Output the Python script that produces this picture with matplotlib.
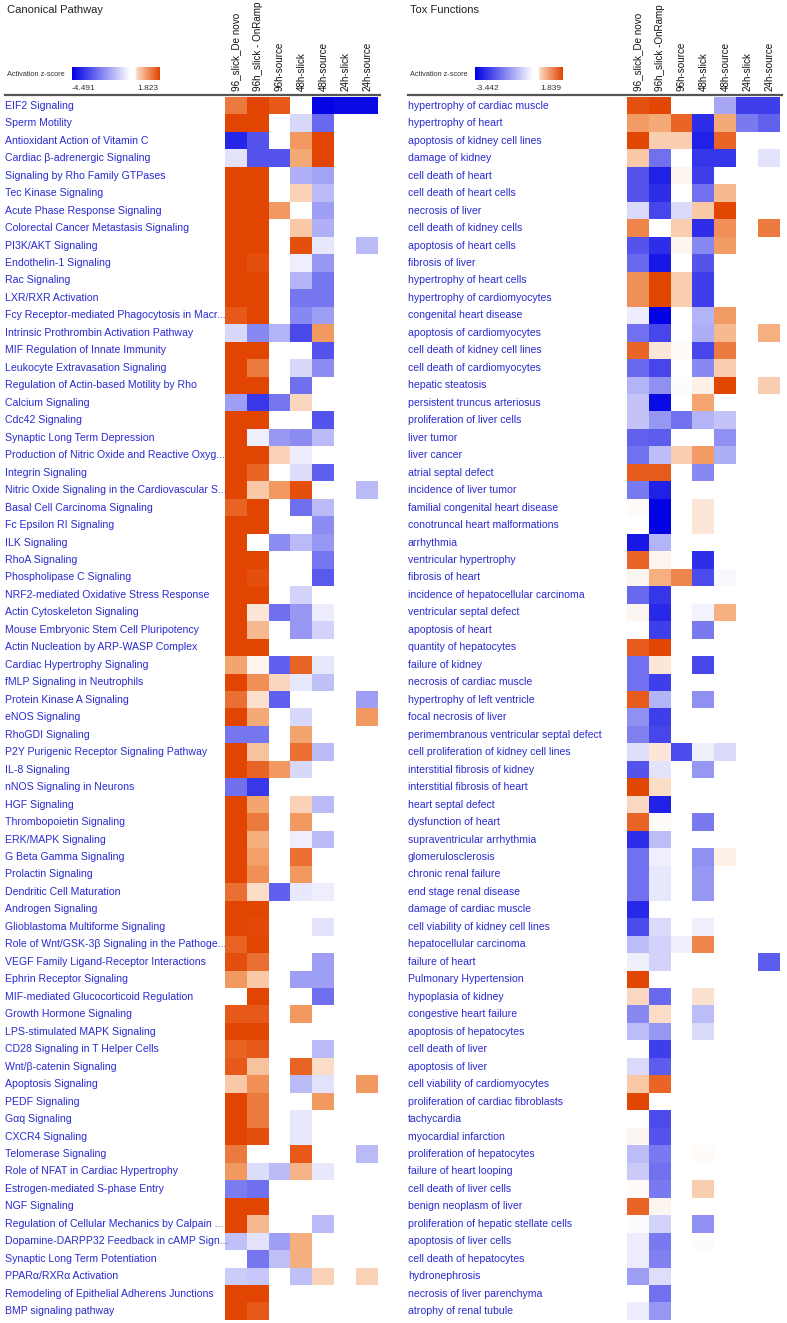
import numpy as np
import matplotlib
matplotlib.use("Agg")
import matplotlib.pyplot as plt
from matplotlib.colors import LinearSegmentedColormap, TwoSlopeNorm
from matplotlib.transforms import blended_transform_factory
from matplotlib.lines import Line2D

plt.rcParams['font.family'] = ['Liberation Sans', 'DejaVu Sans']

n = np.nan

# --- data -----------------------------------------------------------------
columns_left = ['96_slick_De novo', '96h_slick - OnRamp', '96h-source', '48h-slick',
                '48h-source', '24h-slick', '24h-source']
columns_right = ['96_slick_De novo', '96h_slick -OnRamp', '96h-source', '48h-slick',
                 '48h-source', '24h-slick', '24h-source']

pathways = [
    'EIF2 Signaling', 'Sperm Motility', 'Antioxidant Action of Vitamin C',
    'Cardiac β-adrenergic Signaling', 'Signaling by Rho Family GTPases', 'Tec Kinase Signaling',
    'Acute Phase Response Signaling', 'Colorectal Cancer Metastasis Signaling', 'PI3K/AKT Signaling',
    'Endothelin-1 Signaling', 'Rac Signaling', 'LXR/RXR Activation',
    'Fcy Receptor-mediated Phagocytosis in Macr...', 'Intrinsic Prothrombin Activation Pathway',
    'MIF Regulation of Innate Immunity', 'Leukocyte Extravasation Signaling',
    'Regulation of Actin-based Motility by Rho', 'Calcium Signaling', 'Cdc42 Signaling',
    'Synaptic Long Term Depression', 'Production of Nitric Oxide and Reactive Oxyg...',
    'Integrin Signaling', 'Nitric Oxide Signaling in the Cardiovascular S...',
    'Basal Cell Carcinoma Signaling', 'Fc Epsilon RI Signaling', 'ILK Signaling', 'RhoA Signaling',
    'Phospholipase C Signaling', 'NRF2-mediated Oxidative Stress Response',
    'Actin Cytoskeleton Signaling', 'Mouse Embryonic Stem Cell Pluripotency',
    'Actin Nucleation by ARP-WASP Complex', 'Cardiac Hypertrophy Signaling',
    'fMLP Signaling in Neutrophils', 'Protein Kinase A Signaling', 'eNOS Signaling',
    'RhoGDI Signaling', 'P2Y Purigenic Receptor Signaling Pathway', 'IL-8 Signaling',
    'nNOS Signaling in Neurons', 'HGF Signaling', 'Thrombopoietin Signaling', 'ERK/MAPK Signaling',
    'G Beta Gamma Signaling', 'Prolactin Signaling', 'Dendritic Cell Maturation',
    'Androgen Signaling', 'Glioblastoma Multiforme Signaling',
    'Role of Wnt/GSK-3β Signaling in the Pathoge...', 'VEGF Family Ligand-Receptor Interactions',
    'Ephrin Receptor Signaling', 'MIF-mediated Glucocorticoid Regulation',
    'Growth Hormone Signaling', 'LPS-stimulated MAPK Signaling', 'CD28 Signaling in T Helper Cells',
    'Wnt/β-catenin Signaling', 'Apoptosis Signaling', 'PEDF Signaling', 'Gαq Signaling',
    'CXCR4 Signaling', 'Telomerase Signaling', 'Role of NFAT in Cardiac Hypertrophy',
    'Estrogen-mediated S-phase Entry', 'NGF Signaling',
    'Regulation of Cellular Mechanics by Calpain ...', 'Dopamine-DARPP32 Feedback in cAMP Sign...',
    'Synaptic Long Term Potentiation', 'PPARα/RXRα Activation',
    'Remodeling of Epithelial Adherens Junctions', 'BMP signaling pathway',
]

tox_functions = [
    'hypertrophy of cardiac muscle', 'hypertrophy of heart', 'apoptosis of kidney cell lines',
    'damage of kidney', 'cell death of heart', 'cell death of heart cells', 'necrosis of liver',
    'cell death of kidney cells', 'apoptosis of heart cells', 'fibrosis of liver',
    'hypertrophy of heart cells', 'hypertrophy of cardiomyocytes', 'congenital heart disease',
    'apoptosis of cardiomyocytes', 'cell death of kidney cell lines', 'cell death of cardiomyocytes',
    'hepatic steatosis', 'persistent truncus arteriosus', 'proliferation of liver cells',
    'liver tumor', 'liver cancer', 'atrial septal defect', 'incidence of liver tumor',
    'familial congenital heart disease', 'conotruncal heart malformations', 'arrhythmia',
    'ventricular hypertrophy', 'fibrosis of heart', 'incidence of hepatocellular carcinoma',
    'ventricular septal defect', 'apoptosis of heart', 'quantity of hepatocytes',
    'failure of kidney', 'necrosis of cardiac muscle', 'hypertrophy of left ventricle',
    'focal necrosis of liver', 'perimembranous ventricular septal defect',
    'cell proliferation of kidney cell lines', 'interstitial fibrosis of kidney',
    'interstitial fibrosis of heart', 'heart septal defect', 'dysfunction of heart',
    'supraventricular arrhythmia', 'glomerulosclerosis', 'chronic renal failure',
    'end stage renal disease', 'damage of cardiac muscle', 'cell viability of kidney cell lines',
    'hepatocellular carcinoma', 'failure of heart', 'Pulmonary Hypertension',
    'hypoplasia of kidney', 'congestive heart failure', 'apoptosis of hepatocytes',
    'cell death of liver', 'apoptosis of liver', 'cell viability of cardiomyocytes',
    'proliferation of cardiac fibroblasts', 'tachycardia', 'myocardial infarction',
    'proliferation of hepatocytes', 'failure of heart looping', 'cell death of liver cells',
    'benign neoplasm of liver', 'proliferation of hepatic stellate cells',
    'apoptosis of liver cells', 'cell death of hepatocytes', 'hydronephrosis',
    'necrosis of liver parenchyma', 'atrophy of renal tubule',
]

# activation z-scores (nan = not reported)
z_pathways = [
    [1.3, 1.8, 1.6, n, -4.4, -4.3, -4.3],
    [1.8, 1.8, n, -0.7, -2.6, n, n],
    [-3.8, -3.0, n, 1.0, 1.8, n, n],
    [-0.5, -3.0, -3.0, 0.85, 1.8, n, n],
    [1.8, 1.8, n, -1.4, -1.6, n, n],
    [1.8, 1.8, n, 0.45, -1.2, n, n],
    [1.8, 1.8, 1.0, n, -1.7, n, n],
    [1.8, 1.8, n, 0.55, -1.4, n, n],
    [1.8, 1.8, n, 1.7, -0.4, n, -1.2],
    [1.8, 1.7, n, -0.3, -1.8, n, n],
    [1.8, 1.8, n, -1.3, -2.4, n, n],
    [1.8, 1.8, n, -2.4, -2.4, n, n],
    [1.6, 1.8, n, -2.1, -1.7, n, n],
    [-0.7, -2.1, -1.3, -3.2, 1.0, n, n],
    [1.8, 1.8, n, n, -3.0, n, n],
    [1.8, 1.3, n, -0.7, -2.0, n, n],
    [1.8, 1.8, n, -2.5, n, n, n],
    [-1.7, -3.5, -2.4, 0.4, n, n, n],
    [1.8, 1.8, n, n, -3.0, n, n],
    [1.8, -0.3, -1.8, -2.0, -1.2, n, n],
    [1.8, 1.8, 0.45, -0.35, n, n, n],
    [1.8, 1.5, n, -0.6, -2.8, n, n],
    [1.8, 0.55, 1.0, 1.7, n, n, -1.2],
    [1.5, 1.8, n, -2.5, -1.2, n, n],
    [1.8, 1.8, n, n, -2.0, n, n],
    [1.8, n, -2.0, -1.2, -1.8, n, n],
    [1.8, 1.8, n, n, -2.4, n, n],
    [1.8, 1.7, n, n, -2.9, n, n],
    [1.8, 1.8, n, -0.8, n, n, n],
    [1.8, 0.25, -2.5, -1.8, -0.35, n, n],
    [1.8, 0.7, n, -1.8, -0.8, n, n],
    [1.8, 1.8, n, n, n, n, n],
    [0.9, 0.1, -2.8, 1.5, -0.4, n, n],
    [1.8, 1.1, 0.4, -0.4, -1.1, n, n],
    [1.4, 0.3, -2.8, n, n, n, -1.7],
    [1.8, 0.85, n, -0.7, n, n, 1.0],
    [-2.4, -2.4, n, 0.9, n, n, n],
    [1.8, 0.6, n, 1.4, -1.2, n, n],
    [1.8, 1.5, 1.0, -0.7, n, n, n],
    [-2.5, -3.5, n, n, n, n, n],
    [1.8, 0.9, n, 0.45, -1.2, n, n],
    [1.8, 1.3, n, 1.0, n, n, n],
    [1.8, 0.8, n, -0.3, -1.2, n, n],
    [1.8, 0.95, n, 1.4, n, n, n],
    [1.8, 1.1, n, 1.0, n, n, n],
    [1.4, 0.35, -2.8, -0.4, -0.3, n, n],
    [1.8, 1.8, n, n, n, n, n],
    [1.8, 1.75, n, n, -0.5, n, n],
    [1.5, 1.8, n, n, n, n, n],
    [1.7, 1.4, n, n, -1.7, n, n],
    [1.0, 0.55, n, -1.7, -1.7, n, n],
    [n, 1.8, n, n, -2.5, n, n],
    [1.6, 1.6, n, 1.0, n, n, n],
    [1.8, 1.8, n, n, n, n, n],
    [1.5, 1.6, n, n, -1.2, n, n],
    [1.6, 0.6, n, 1.5, 0.35, n, n],
    [0.55, 1.1, n, -1.2, -0.5, n, 1.0],
    [1.8, 1.3, n, n, 1.0, n, n],
    [1.8, 1.3, n, -0.4, n, n, n],
    [1.8, 1.7, n, -0.4, n, n, n],
    [1.3, n, n, 1.6, n, n, -1.2],
    [1.0, -0.6, -1.2, 0.75, -0.4, n, n],
    [-2.3, -2.5, n, n, n, n, n],
    [1.8, 1.8, n, n, n, n, n],
    [1.8, 0.7, n, n, -1.2, n, n],
    [-1.1, -0.5, -1.7, 0.8, n, n, n],
    [n, -2.4, -1.1, 0.8, n, n, n],
    [-0.9, -1.0, n, -1.1, 0.45, n, 0.45],
    [1.8, 1.8, n, n, n, n, n],
    [1.8, 1.6, n, n, n, n, n],
]

z_tox = [
    [1.7, 1.8, n, n, -1.2, -2.6, -2.6],
    [1.0, 0.85, 1.5, -2.8, 0.85, -1.8, -2.1],
    [1.8, 0.5, 0.5, -3.0, 1.5, n, n],
    [0.55, -1.9, n, -2.7, -2.7, n, -0.35],
    [-2.3, -3.0, 0.1, -2.6, n, n, n],
    [-2.3, -2.8, n, -1.9, 0.7, n, n],
    [-0.5, -2.5, -0.5, 0.55, 1.8, n, n],
    [1.2, n, 0.5, -2.8, 1.1, n, 1.3],
    [-2.3, -2.8, 0.1, -1.6, 1.0, n, n],
    [-2.0, -3.1, n, -2.3, n, n, n],
    [1.1, 1.8, 0.5, -2.6, n, n, n],
    [1.1, 1.8, 0.5, -2.6, n, n, n],
    [-0.25, -3.4, n, -1.0, 1.0, n, n],
    [-1.9, -2.5, n, -1.1, 0.7, n, 0.8],
    [1.5, 0.25, 0.05, -2.5, 1.3, n, n],
    [-2.0, -2.5, n, -1.6, 0.5, n, n],
    [-1.0, -1.5, -0.05, 0.15, 1.8, n, 0.5],
    [-0.8, -3.3, n, 0.9, n, n, n],
    [-0.8, -1.4, -1.9, -1.0, -0.8, n, n],
    [-2.1, -2.2, n, n, -1.5, n, n],
    [-1.9, -0.9, 0.5, 1.0, -1.1, n, n],
    [1.6, 1.6, n, -1.6, n, n, n],
    [-1.8, -3.0, n, n, n, n, n],
    [0.05, -3.4, n, 0.25, n, n, n],
    [n, -3.4, n, 0.25, n, n, n],
    [-3.1, -1.0, n, n, n, n, n],
    [1.5, 0.1, n, -2.8, n, n, n],
    [0.1, 0.8, 1.2, -2.4, -0.1, n, n],
    [-2.0, -2.7, n, n, n, n, n],
    [0.1, -2.9, n, -0.15, 0.8, n, n],
    [n, -2.6, n, -1.8, n, n, n],
    [1.6, 1.8, n, n, n, n, n],
    [-1.9, 0.25, n, -2.5, n, n, n],
    [-1.9, -2.6, n, n, n, n, n],
    [1.6, -1.0, n, -1.5, n, n, n],
    [-1.5, -2.6, n, n, n, n, n],
    [-1.7, -2.5, n, n, n, n, n],
    [-0.45, 0.25, -2.4, -0.2, -0.5, n, n],
    [-2.3, -0.35, n, -1.4, n, n, n],
    [1.8, 0.35, n, n, n, n, n],
    [0.4, -3.0, n, n, n, n, n],
    [1.5, 0.05, n, -1.8, n, n, n],
    [-2.8, -0.9, n, n, n, n, n],
    [-1.9, -0.2, n, -1.5, 0.15, n, n],
    [-1.9, -0.3, n, -1.4, n, n, n],
    [-1.9, -0.3, n, -1.4, n, n, n],
    [-2.9, n, n, n, n, n, n],
    [-2.4, -0.5, n, -0.2, n, n, n],
    [-0.9, -0.6, -0.2, 1.2, n, n, n],
    [-0.2, -0.6, n, n, n, n, -2.2],
    [1.8, n, n, n, n, n, n],
    [0.4, -2.0, n, 0.3, n, n, n],
    [-1.6, 0.35, n, -0.9, n, n, n],
    [-0.9, -1.4, n, -0.5, n, n, n],
    [n, -2.6, n, n, n, n, n],
    [-0.5, -2.2, n, n, n, n, n],
    [0.55, 1.5, n, n, n, n, n],
    [1.8, n, n, n, n, n, n],
    [n, -2.4, n, n, n, n, n],
    [0.1, -2.3, n, n, n, n, n],
    [-0.9, -1.8, n, 0.03, n, n, n],
    [-0.7, -1.9, n, n, n, n, n],
    [0.05, -1.8, n, 0.5, n, n, n],
    [1.5, 0.1, n, n, n, n, n],
    [-0.05, -0.6, n, -1.5, n, n, n],
    [-0.25, -1.8, n, -0.03, n, n, n],
    [-0.25, -1.7, n, n, n, n, n],
    [-1.3, -0.45, n, n, n, n, n],
    [n, -1.9, n, n, n, n, n],
    [-0.25, -1.4, n, n, n, n, n],
]

range_left = (-4.491, 1.823)
range_right = (-3.442, 1.839)

# --- figure -----------------------------------------------------------------
W, H = 787, 1323
fig = plt.figure(figsize=(W / 100, H / 100), dpi=100)
fig.patch.set_facecolor('white')

cmap = LinearSegmentedColormap.from_list(
    'ipa', [(0.0, '#0000e4'), (0.5, '#ffffff'), (0.75, '#f4a46e'), (1.0, '#e24300')])
cmap.set_bad('white')
legend_cmap = LinearSegmentedColormap.from_list(
    'ipa_leg', [(0.0, '#0000e4'), (0.66, '#ffffff'), (0.72, '#ffffff'),
                (0.74, '#fbd7bd'), (1.0, '#e24300')])

label_color = '#2b2bd2'


def px_axes(x0, y0, x1, y1):
    return fig.add_axes([x0 / W, 1 - y1 / H, (x1 - x0) / W, (y1 - y0) / H])


def panel(title, names, values, cols, vrange, x_text, x0, x1, leg_x):
    vals = np.array(values, dtype=float)
    norm = TwoSlopeNorm(vmin=vrange[0], vcenter=0, vmax=vrange[1])
    ax = px_axes(x0, 97, x1, 1320)
    ax.imshow(np.ma.masked_invalid(vals), cmap=cmap, norm=norm, aspect='auto',
              interpolation='nearest')
    ax.set_axis_off()

    # row labels
    tr = blended_transform_factory(fig.transFigure, ax.transData)
    for i, name in enumerate(names):
        ax.text(x_text / W, i, name, transform=tr, ha='left', va='center',
                fontsize=7.6, color=label_color, clip_on=False)

    # column labels
    for j, c in enumerate(cols):
        ax.text(j, -0.85, c, rotation=90, ha='center', va='bottom', fontsize=7.1,
                color='#111111', clip_on=False)

    # title and separator line
    fig.text((x_text + 2) / W, 1 - 10 / H, title, fontsize=8, va='center', ha='left',
             color='#222222')
    fig.add_artist(Line2D([(x_text) / W, (x1 + 2) / W], [1 - 94.5 / H, 1 - 94.5 / H],
                          transform=fig.transFigure, color='#555555', lw=1.6))

    # legend
    fig.text((x_text + 2) / W, 1 - 75 / H, 'Activation z-score', fontsize=5.3,
             va='center', ha='left', color='#333333')
    cax = px_axes(leg_x, 67, leg_x + 88, 80)
    cax.imshow(np.linspace(0, 1, 256)[None, :], cmap=legend_cmap, aspect='auto')
    cax.set_axis_off()
    fig.text((leg_x + 12) / W, 1 - 88 / H, f'{vrange[0]:.3f}', fontsize=6, ha='center',
             va='center', color='#333333')
    fig.text((leg_x + 76) / W, 1 - 88 / H, f'{vrange[1]:.3f}', fontsize=6, ha='center',
             va='center', color='#333333')


panel('Canonical Pathway', pathways, z_pathways, columns_left, range_left,
      5, 225, 378, 72)
panel('Tox Functions', tox_functions, z_tox, columns_right, range_right,
      408, 627, 780, 475)

fig.savefig('out.png', dpi=100)
